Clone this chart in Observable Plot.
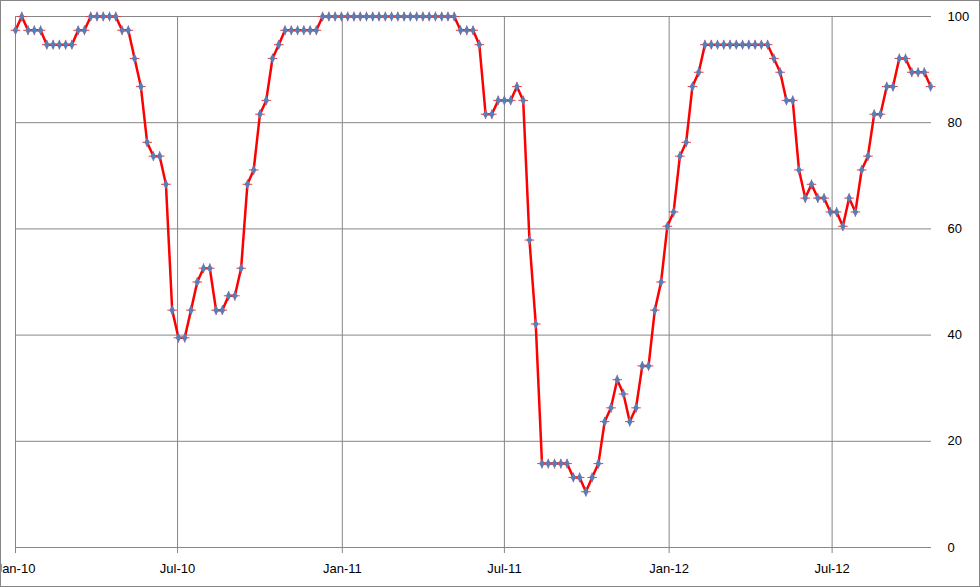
<!DOCTYPE html>
<html>
<head>
<meta charset="utf-8">
<script src="https://cdn.jsdelivr.net/npm/d3@7"></script>
<script src="https://cdn.jsdelivr.net/npm/@observablehq/plot@0.6"></script>
<style>
  html, body { margin: 0; padding: 0; background: #fff; }
  #chart svg { display: block; outline: 1px solid #868686; outline-offset: -1px; }
</style>
</head>
<body>
<div id="chart"></div>
<script>
// Weekly series starting 2010-01-01
const startDate = "2010-01-01";
const stepDays = 7;
const values = [
  97.4, 100, 97.4, 97.4, 97.4, 94.7, 94.7, 94.7, 94.7, 94.7,
  97.4, 97.4, 100, 100, 100, 100, 100, 97.4, 97.4, 92.1,
  86.8, 76.3, 73.7, 73.7, 68.4, 44.7, 39.5, 39.5, 44.7, 50,
  52.6, 52.6, 44.7, 44.7, 47.4, 47.4, 52.6, 68.4, 71.1, 81.6,
  84.2, 92.1, 94.7, 97.4, 97.4, 97.4, 97.4, 97.4, 97.4, 100,
  100, 100, 100, 100, 100, 100, 100, 100, 100, 100,
  100, 100, 100, 100, 100, 100, 100, 100, 100, 100,
  100, 97.4, 97.4, 97.4, 94.7, 81.6, 81.6, 84.2, 84.2, 84.2,
  86.8, 84.2, 57.9, 42.1, 15.8, 15.8, 15.8, 15.8, 15.8, 13.2,
  13.2, 10.5, 13.2, 15.8, 23.7, 26.3, 31.6, 28.9, 23.7, 26.3,
  34.2, 34.2, 44.7, 50, 60.5, 63.2, 73.7, 76.3, 86.8, 89.5,
  94.7, 94.7, 94.7, 94.7, 94.7, 94.7, 94.7, 94.7, 94.7, 94.7,
  94.7, 92.1, 89.5, 84.2, 84.2, 71.1, 65.8, 68.4, 65.8, 65.8,
  63.2, 63.2, 60.5, 65.8, 63.2, 71.1, 73.7, 81.6, 81.6, 86.8,
  86.8, 92.1, 92.1, 89.5, 89.5, 89.5, 86.8
];
const xDomain = ["2010-01-01", "2012-10-20"];
const xTicks = ["2010-01-01", "2010-07-01", "2011-01-01", "2011-07-01", "2012-01-01", "2012-07-01"];
const yTicks = [0, 20, 40, 60, 80, 100];

const start = new Date(startDate);
const data = values.map((v, i) => ({date: d3.utcDay.offset(start, i * stepDays), value: v}));
const xTickDates = xTicks.map(d => new Date(d));

const grid = "#868686";
const chart = Plot.plot({
  width: 980,
  height: 587,
  marginLeft: 15,
  marginRight: 49,
  marginTop: 16,
  marginBottom: 40,
  style: {fontFamily: "'Liberation Sans', Arial, sans-serif", fontSize: "13px", color: "#000", background: "#fff", overflow: "hidden"},
  x: {type: "utc", domain: xDomain.map(d => new Date(d))},
  y: {domain: [0, 100]},
  marks: [
    Plot.gridY(yTicks, {stroke: grid, strokeOpacity: 1}),
    Plot.gridX(xTickDates, {stroke: grid, strokeOpacity: 1}),
    Plot.ruleY([0], {stroke: grid, strokeWidth: 1.2}),
    Plot.axisX(xTickDates, {tickSize: 6, tickPadding: 10, stroke: grid, tickFormat: d3.utcFormat("%b-%y"), label: null}),
    Plot.axisY(yTicks, {anchor: "right", tickSize: 0, tickPadding: 16, label: null, textAnchor: "start"}),
    Plot.line(data, {x: "date", y: "value", stroke: "#ff0000", strokeWidth: 2.5}),
    Plot.dot(data, {x: "date", y: "value", symbol: "plus", r: 3.2, stroke: "#ff3030", strokeWidth: 1}),
    Plot.dot(data, {x: "date", y: "value", symbol: "diamond", r: 2.9, fill: "#5b7db5", stroke: "none"})
  ]
});
document.getElementById("chart").append(chart);
</script>
</body>
</html>
